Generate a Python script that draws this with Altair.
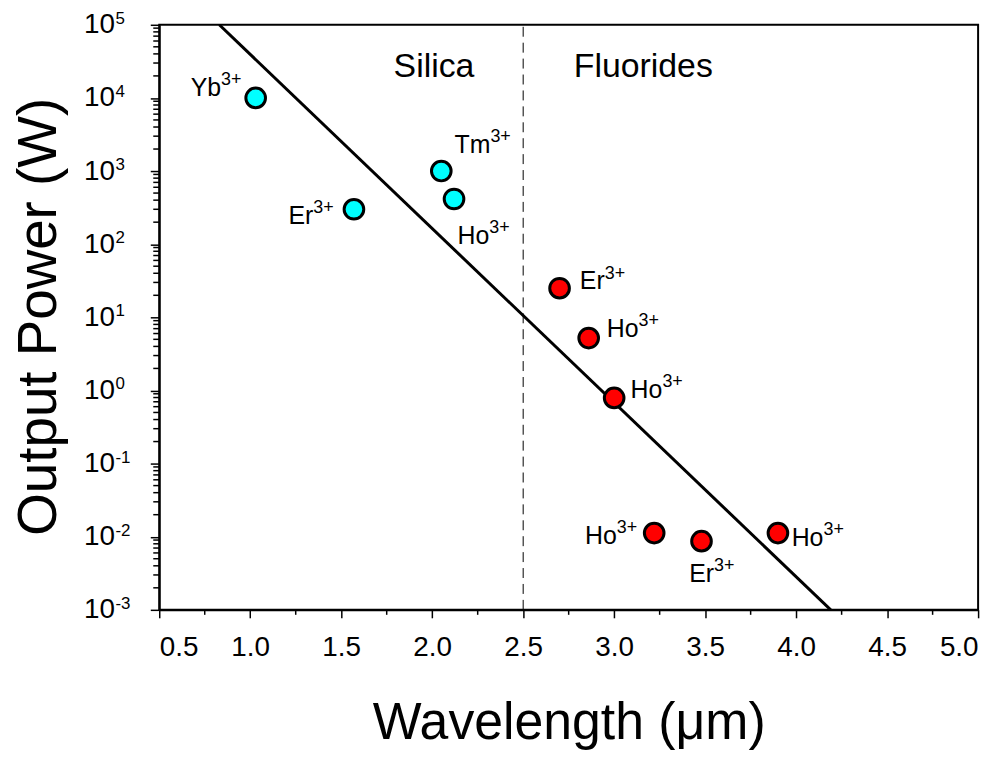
import altair as alt
import pandas as pd

FONT = "Liberation Sans"

# ---- data ----
silica_x = [1.03, 1.57, 2.05, 2.12]
silica_p = [1.0e4, 300, 1000, 415]
silica_ion = ["Yb", "Er", "Tm", "Ho"]
silica_lx = [0.84, 1.347, 2.320, 2.314]
silica_ly = [10 ** 4.03, 10 ** 2.28, 10 ** 3.245, 10 ** 2.007]

fluor_x = [2.70, 2.86, 3.00, 3.22, 3.48, 3.90]
fluor_p = [25, 5.2, 0.79, 0.0112, 0.0087, 0.0112]
fluor_ion = ["Er", "Ho", "Ho", "Ho", "Er", "Ho"]
fluor_lx = [2.948, 3.134, 3.265, 3.014, 3.549, 4.150]
fluor_ly = [10 ** 1.381, 10 ** 0.728, 10 ** -0.102, 10 ** -2.102, 10 ** -2.619, 10 ** -2.129]
charge = "3+"

fit_x = [0.83, 4.19]
fit_p = [1e5, 1e-3]

boundary_x = [2.5, 2.5]
boundary_p = [1e-3, 1e5]

region_names = ["Silica", "Fluorides"]
region_x = [2.01, 3.16]
region_y = [10 ** 4.29, 10 ** 4.29]

y_exponents = [-3, -2, -1, 0, 1, 2, 3, 4, 5]
y_ticks = [10.0 ** e for e in y_exponents]
y_minor = [m * 10.0 ** e for e in range(-3, 5) for m in range(2, 10)]
x_ticks = [0.5, 1.0, 1.5, 2.0, 2.5, 3.0, 3.5, 4.0, 4.5, 5.0]
x_minor = [0.75, 1.25, 1.75, 2.25, 2.75, 3.25, 3.75, 4.25, 4.75]

# ---- tables ----
pts = pd.DataFrame({
    "x": silica_x + fluor_x,
    "p": silica_p + fluor_p,
    "glass": ["Silica"] * len(silica_x) + ["Fluorides"] * len(fluor_x),
})
labels = pd.DataFrame({
    "x": silica_lx + fluor_lx,
    "p": silica_ly + fluor_ly,
    "ion": silica_ion + fluor_ion,
    "sup": [charge] * (len(silica_ion) + len(fluor_ion)),
})
fit = pd.DataFrame({"x": fit_x, "p": fit_p})
bound = pd.DataFrame({"x": boundary_x, "p": boundary_p})
regions = pd.DataFrame({"x": region_x, "p": region_y, "name": region_names})
yexp = pd.DataFrame({"p": y_ticks, "e": [str(e) for e in y_exponents]})
ymin = pd.DataFrame({"p": y_minor})
xmin = pd.DataFrame({"x": x_minor})

W, H = 823, 588
xs = alt.Scale(domain=[0.5, 5.0], nice=False, zero=False)
ys = alt.Scale(type="log", domain=[1e-3, 1e5], nice=False)

x_axis = alt.Axis(
    values=x_ticks, format=".1f", grid=False,
    labelFont=FONT, labelFontSize=28, labelColor="black", labelPadding=16,
    tickSize=8, tickColor="black", tickWidth=1.5,
    domainColor="black", domainWidth=2,
    title="Wavelength (μm)", titleFont=FONT, titleFontSize=52,
    titleFontWeight="normal", titleColor="black",
    titleX=W / 2, titleY=129, titleBaseline="alphabetic", titleAlign="center",
)
y_axis = alt.Axis(
    values=y_ticks, labelExpr="'10'", grid=False,
    labelFont=FONT, labelFontSize=28, labelColor="black", labelPadding=36,
    tickSize=9, tickColor="black", tickWidth=1.5,
    domainColor="black", domainWidth=2,
    title="Output Power (W)", titleFont=FONT, titleFontSize=55,
    titleFontWeight="normal", titleColor="black", titleAngle=270,
    titleX=-104, titleY=293, titleBaseline="alphabetic", titleAlign="center",
)

X = alt.X("x:Q", scale=xs, axis=x_axis)
Y = alt.Y("p:Q", scale=ys, axis=y_axis)

fit_line = alt.Chart(fit).mark_line(color="black", strokeWidth=3, clip=True).encode(x=X, y=Y)

boundary = alt.Chart(bound).mark_line(
    color="black", strokeWidth=1, strokeDash=[10, 6]
).encode(x=X, y=Y)

dots = alt.Chart(pts).mark_point(
    shape="circle", filled=True, size=390, stroke="black", strokeWidth=3, opacity=1
).encode(
    x=X, y=Y,
    fill=alt.Fill("glass:N", scale=alt.Scale(domain=["Silica", "Fluorides"],
                                              range=["#00FFFF", "#FF0000"]), legend=None),
)

ion_text = alt.Chart(labels).mark_text(
    font=FONT, fontSize=25, align="right", baseline="alphabetic", color="black"
).encode(x=X, y=Y, text="ion:N")

sup_text = alt.Chart(labels).mark_text(
    font=FONT, fontSize=18, align="left", baseline="alphabetic", color="black", dy=-11
).encode(x=X, y=Y, text="sup:N")

region_text = alt.Chart(regions).mark_text(
    font=FONT, fontSize=34, align="center", baseline="alphabetic", color="black"
).encode(x=X, y=Y, text="name:N")

exp_text = alt.Chart(yexp).mark_text(
    font=FONT, fontSize=17, align="left", baseline="middle", color="black", dy=-6
).encode(x=alt.value(-44), y=Y, text="e:N")

y_minor_ticks = alt.Chart(ymin).mark_rule(color="black", strokeWidth=1.5).encode(
    x=alt.value(0), x2=alt.value(-6), y=Y,
)
x_minor_ticks = alt.Chart(xmin).mark_rule(color="black", strokeWidth=1.5).encode(
    x=X, y=alt.value(H), y2=alt.value(H + 5),
)

chart = alt.layer(
    boundary, fit_line, dots, ion_text, sup_text, region_text,
    exp_text, y_minor_ticks, x_minor_ticks,
).properties(
    width=W, height=H,
    background="white",
    autosize=alt.AutoSizeParams(type="none"),
    padding={"left": 152, "top": 15, "right": 20, "bottom": 140},
).configure_view(
    stroke="black", strokeWidth=2,
)

chart.save("out.html", embed_options={"renderer": "svg", "actions": False})
